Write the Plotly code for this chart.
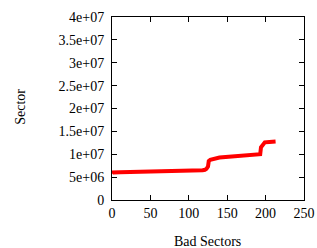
import plotly.graph_objects as go

# Data (bad sector index vs sector number)
bad_sectors = [0, 1, 10, 30, 60, 90, 110, 118, 121, 123, 125, 126, 128, 134, 140,
               152, 165, 175, 185, 193, 194, 196, 199, 205, 213]
sector = [5.8e6, 6.0e6, 6.05e6, 6.1e6, 6.2e6, 6.3e6, 6.4e6, 6.5e6, 6.6e6, 6.8e6,
          7.3e6, 8.5e6, 8.8e6, 9.1e6, 9.3e6, 9.47e6, 9.6e6, 9.7e6, 9.85e6, 1.0e7,
          1.15e7, 1.2e7, 1.26e7, 1.27e7, 1.28e7]

x_ticks = [0, 50, 100, 150, 200, 250]
y_tickvals = [0, 5e6, 1e7, 1.5e7, 2e7, 2.5e7, 3e7, 3.5e7, 4e7]
y_ticktext = ["0", "5e+06", "1e+07", "1.5e+07", "2e+07", "2.5e+07", "3e+07", "3.5e+07", "4e+07"]

font = dict(family="Liberation Serif", size=14, color="black")

fig = go.Figure()
fig.add_trace(go.Scatter(
    x=bad_sectors, y=sector, mode="lines",
    line=dict(color="#ff0000", width=4),
    showlegend=False,
))

axis_common = dict(
    showline=True, linecolor="black", linewidth=1, mirror="ticks",
    ticks="inside", ticklen=5, tickcolor="black", tickwidth=1,
    showgrid=False, zeroline=False, tickfont=font, automargin=False,
)

fig.update_layout(
    width=317, height=248,
    margin=dict(l=111.5, r=13, t=17, b=48),
    paper_bgcolor="white", plot_bgcolor="white",
    font=font,
    xaxis=dict(range=[0, 250], tickvals=x_ticks, **axis_common),
    yaxis=dict(range=[0, 4e7], tickvals=y_tickvals, ticktext=y_ticktext,
               ticklabelstandoff=4, **axis_common),
    annotations=[
        dict(text="Sector", xref="paper", yref="paper", x=-0.4805, y=0.508,
             showarrow=False, textangle=-90, font=font, xanchor="center", yanchor="middle"),
        dict(text="Bad Sectors", xref="paper", yref="paper", x=0.498, y=-0.228,
             showarrow=False, font=font, xanchor="center", yanchor="middle"),
    ],
)

fig.write_html("out.html", config={"displayModeBar": False},
               post_script="document.body.style.margin='0';document.body.style.padding='0';")
